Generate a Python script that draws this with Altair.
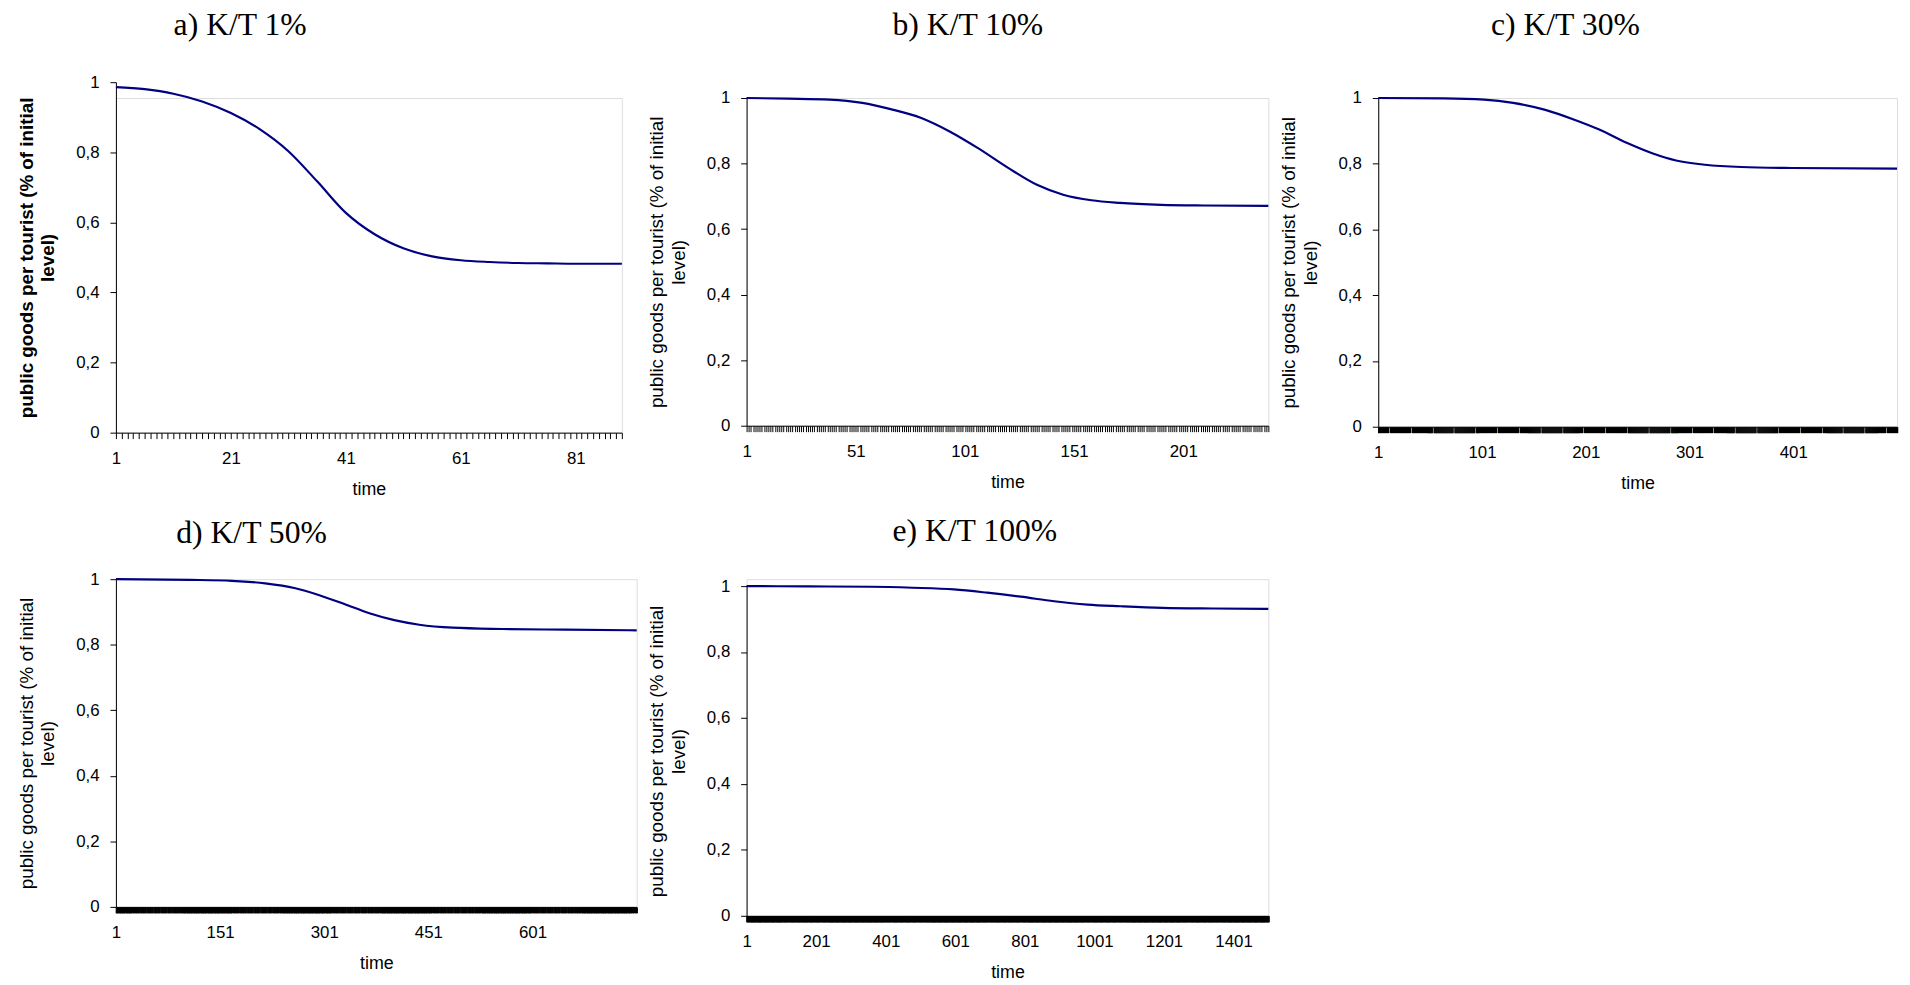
import json
import altair as alt
import pandas as pd

# ---------------- data ----------------
titles = ["a) K/T 1%", "b) K/T 10%", "c) K/T 30%", "d) K/T 50%", "e) K/T 100%"]

a_t = [1, 6, 11, 16, 21, 26, 31, 36, 41, 46, 51, 56, 61, 66, 71, 76, 81, 89]
a_v = [0.986, 0.980, 0.967, 0.945, 0.912, 0.866, 0.803, 0.717, 0.627, 0.566,
       0.526, 0.503, 0.492, 0.487, 0.484, 0.483, 0.482, 0.482]

b_t = [1, 20, 39, 54, 67, 81, 94, 107, 121, 134, 146, 159, 172, 191, 210, 240]
b_v = [1.0, 0.998, 0.995, 0.985, 0.966, 0.939, 0.898, 0.847, 0.786, 0.735,
       0.705, 0.688, 0.680, 0.674, 0.672, 0.671]

c_t = [1, 64, 103, 131, 162, 190, 214, 241, 265, 288, 316, 351, 399, 501]
c_v = [1.0, 0.999, 0.995, 0.985, 0.964, 0.934, 0.904, 0.863, 0.832, 0.810,
       0.797, 0.790, 0.787, 0.785]

d_t = [1, 108, 168, 216, 258, 294, 330, 366, 402, 438, 486, 558, 648, 751]
d_v = [1.0, 0.998, 0.995, 0.987, 0.973, 0.951, 0.924, 0.896, 0.875, 0.861,
       0.852, 0.848, 0.846, 0.844]

e_t = [1, 178, 358, 478, 597, 693, 789, 885, 981, 1076, 1196, 1340, 1501]
e_v = [1.0, 0.999, 0.998, 0.995, 0.990, 0.980, 0.968, 0.954, 0.944, 0.939,
       0.934, 0.932, 0.931]

# number of time categories on each axis
n_periods = [89, 240, 501, 751, 1501]

a_labels = [1, 21, 41, 61, 81]
b_labels = [1, 51, 101, 151, 201]
c_labels = [1, 101, 201, 301, 401]
d_labels = [1, 151, 301, 451, 601]
e_labels = [1, 201, 401, 601, 801, 1001, 1201, 1401]

y_ticks = [0, 0.2, 0.4, 0.6, 0.8, 1]
y_title = ["public goods per tourist (% of initial", "level)"]
x_title = "time"

LINE_COLOR = "#000080"
SANS = "Liberation Sans"
SERIF = "Liberation Serif"


def panel(t, v, n, labels, title, width, height, title_dx, title_offset,
          y_range=None, bold=False, tick_w=1.0):
    df = pd.DataFrame({"time": t, "value": v})
    label_expr = ("indexof(%s, datum.value) >= 0 ? toString(datum.value) : ''"
                  % json.dumps(labels))
    if y_range is not None:
        yscale = alt.Scale(domain=[0, 1], nice=False, zero=True, range=y_range)
    else:
        yscale = alt.Scale(domain=[0, 1], nice=False, zero=True)
    return alt.Chart(df).mark_line(
        color=LINE_COLOR, strokeWidth=2.2, interpolate="monotone"
    ).encode(
        x=alt.X("time:Q",
                scale=alt.Scale(domain=[1, n], nice=False, zero=False),
                axis=alt.Axis(values=list(range(1, n + 1)),
                              labelExpr=label_expr,
                              labelOverlap=False, labelFlush=False,
                              tickSize=6, tickColor="#000", tickWidth=tick_w,
                              domainColor="#000", labelPadding=12,
                              labelFontSize=17, labelFont=SANS,
                              labelColor="#000",
                              title=x_title, titleFontSize=18,
                              titleFont=SANS, titleFontWeight="normal",
                              titleColor="#000", titlePadding=14,
                              grid=False)),
        y=alt.Y("value:Q", scale=yscale,
                axis=alt.Axis(values=y_ticks,
                              labelExpr="replace(format(datum.value, '.1~f'), '.', ',')",
                              tickSize=6, tickColor="#000", domainColor="#000",
                              labelPadding=11, labelFontSize=17, labelFont=SANS,
                              labelColor="#000",
                              title=y_title, titleFontSize=19, titleFont=SANS,
                              titleLineHeight=22,
                              titleFontWeight="bold" if bold else "normal",
                              titleColor="#000", titlePadding=18,
                              grid=False)),
    ).properties(
        width=width, height=height,
        title=alt.TitleParams(title, font=SERIF, fontSize=32,
                              fontWeight="normal", color="#000",
                              anchor="middle", frame="group", dx=title_dx,
                              baseline="alphabetic", offset=title_offset),
    )


pa = panel(a_t, a_v, n_periods[0], a_labels, titles[0], 511, 338, -130, 7,
           y_range=[338, -16], bold=True)
pb = panel(b_t, b_v, n_periods[1], b_labels, titles[1], 527, 331, -40, 23)
pc = panel(c_t, c_v, n_periods[2], c_labels, titles[2], 524, 332, -73, 23,
           tick_w=1.5)
pd_ = panel(d_t, d_v, n_periods[3], d_labels, titles[3], 526, 331, -126, -4,
            tick_w=1.5)
pe = panel(e_t, e_v, n_periods[4], e_labels, titles[4], 527, 340, -33, 4.5,
           y_range=[340, 7], tick_w=1.5)

chart = alt.concat(pa, pb, pc, pd_, pe, columns=3, align="each",
                   spacing={"row": 16, "column": 5}, bounds="full").properties(
    padding={"left": 8, "top": -5, "right": 0, "bottom": 0}
).configure_view(stroke=None).configure(background="white")

chart.save("out.html", embed_options={"renderer": "svg", "actions": False})
